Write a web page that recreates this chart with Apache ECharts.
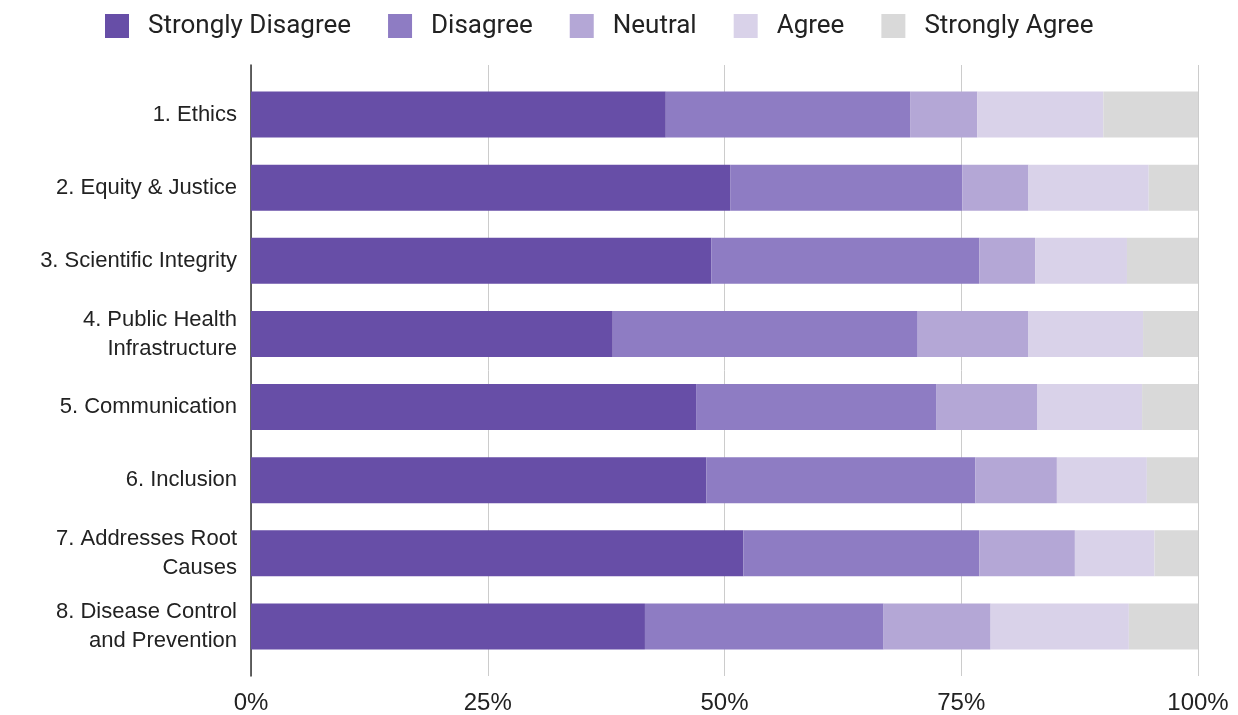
<!DOCTYPE html>
<html>
<head>
<meta charset="utf-8">
<script src="https://cdn.jsdelivr.net/npm/echarts@6/dist/echarts.min.js"></script>
<style>
  html, body { margin: 0; padding: 0; background: #fff; }
  #chart { width: 1238px; height: 715px; }
</style>
</head>
<body>
<div id="chart"></div>
<script>
// categories, top to bottom
const categories = [
  '1. Ethics',
  '2. Equity & Justice',
  '3. Scientific Integrity',
  '4. Public Health\nInfrastructure',
  '5. Communication',
  '6. Inclusion',
  '7. Addresses Root\nCauses',
  '8. Disease Control\nand Prevention'
];

const seriesNames = ['Strongly Disagree', 'Disagree', 'Neutral', 'Agree', 'Strongly Agree'];
const colors = ['#674ea7', '#8e7cc3', '#b4a7d6', '#d9d2e9', '#d9d9d9'];

// percent shares per category
const stronglyDisagree = [43.8, 50.6, 48.6, 38.2, 47.0, 48.1, 52.0, 41.6];
const disagree         = [25.8, 24.5, 28.3, 32.2, 25.4, 28.4, 24.9, 25.2];
const neutral          = [7.1, 7.0, 5.9, 11.7, 10.6, 8.6, 10.1, 11.3];
const agree            = [13.3, 12.7, 9.7, 12.1, 11.1, 9.5, 8.4, 14.6];
const stronglyAgree    = [10.0, 5.2, 7.5, 5.8, 5.9, 5.4, 4.6, 7.3];

const xTicks = [0, 25, 50, 75, 100];

const seriesData = [stronglyDisagree, disagree, neutral, agree, stronglyAgree];

const labelFont = '"Liberation Sans", Arial, sans-serif';

const chart = echarts.init(document.getElementById('chart'));

const option = {
  animation: false,
  textStyle: { fontFamily: labelFont },
  legend: {
    top: 8,
    left: 100,
    itemWidth: 24,
    itemHeight: 24,
    itemGap: 37,
    icon: 'rect',
    data: seriesNames,
    textStyle: {
      fontFamily: 'Roboto, sans-serif',
      fontSize: 26,
      color: '#222',
      padding: [0, 0, 0, 14]
    }
  },
  grid: [
    // bars
    { left: 251, right: 40, top: 78, bottom: 52 },
    // frame: gridlines, axis line, tick labels
    { left: 251, right: 40, top: 65, bottom: 39 }
  ],
  xAxis: [
    { gridIndex: 0, type: 'value', min: 0, max: 100, show: false },
    {
      gridIndex: 1, type: 'value', min: xTicks[0], max: xTicks[xTicks.length - 1], interval: 25,
      axisLine: { show: false },
      axisTick: { show: false },
      splitLine: { show: true, lineStyle: { color: '#cccccc', width: 1 } },
      axisLabel: { formatter: '{value}%', fontFamily: labelFont, fontSize: 24, color: '#222', margin: 15 }
    }
  ],
  yAxis: [
    {
      gridIndex: 0, type: 'category', data: categories, inverse: true,
      axisLine: { show: false },
      axisTick: { show: false },
      axisLabel: { fontFamily: labelFont, fontSize: 22, color: '#222', margin: 14, lineHeight: 29, align: 'right' }
    },
    {
      gridIndex: 1, type: 'value', min: 0, max: 1,
      axisLine: { show: true, lineStyle: { color: '#333', width: 1.5 } },
      axisTick: { show: false },
      axisLabel: { show: false },
      splitLine: { show: false }
    }
  ],
  series: seriesNames.map((name, i) => ({
    name: name,
    type: 'bar',
    stack: 'total',
    xAxisIndex: 0,
    yAxisIndex: 0,
    barWidth: 46,
    itemStyle: { color: colors[i] },
    data: seriesData[i]
  }))
};

chart.setOption(option);
window.addEventListener('resize', () => chart.resize());
</script>
</body>
</html>
